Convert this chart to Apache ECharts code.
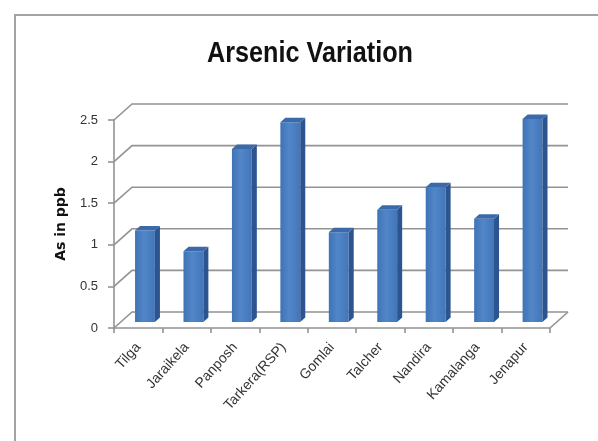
<!DOCTYPE html>
<html>
<head>
<meta charset="utf-8">
<script src="https://cdn.jsdelivr.net/npm/echarts@6/dist/echarts.min.js"></script>
<style>
  html, body { margin: 0; padding: 0; background: #fff; }
  #chart { width: 598px; height: 441px; }
</style>
</head>
<body>
<div id="chart"></div>
<script>
// Arsenic concentration per sampling site (ppb)
const categories = ['Tilga', 'Jaraikela', 'Panposh', 'Tarkera(RSP)', 'Gomlai', 'Talcher', 'Nandira', 'Kamalanga', 'Jenapur'];
const arsenic = [1.1, 0.85, 2.08, 2.40, 1.08, 1.35, 1.62, 1.24, 2.44];
const yTicks = [0, 0.5, 1, 1.5, 2, 2.5];

// Oblique offset of the back wall relative to the front plane (pseudo-3D)
const DX = 18, DY = -16;
const LINE = '#939393';

const chart = echarts.init(document.getElementById('chart'), null, { renderer: 'canvas' });

// Back wall / side wall gridlines and the floor outline
function renderWalls(params, api) {
  const v = api.value(1);
  const y = api.coord([0, v])[1];
  const cs = params.coordSys;
  const x0 = cs.x, x1 = cs.x + cs.width;
  const children = [{
    type: 'polyline',
    shape: { points: [[x0, y], [x0 + DX, y + DY], [x1 + DX, y + DY]] },
    style: { stroke: LINE, lineWidth: 1.6, fill: null }
  }];
  if (v === 0) {
    children.push({
      type: 'line',
      shape: { x1: x1 + DX, y1: y + DY, x2: x1, y2: y },
      style: { stroke: LINE, lineWidth: 1.6 }
    });
  }
  return { type: 'group', children };
}

// Column drawn as front face, side face and top face
function renderColumn(params, api) {
  const i = api.value(0), v = api.value(1);
  const top = api.coord([i, v]);
  const base = api.coord([i, 0]);
  const band = api.size([1, 0])[0];
  const w = band * 0.41;
  const f0 = 0.375, d = 0.28;
  const ox = f0 * DX, oy = f0 * DY;
  const xl = top[0] - w / 2 + ox, xr = xl + w;
  const yt = top[1] + oy, yb = base[1] + oy;
  const sx = d * DX, sy = d * DY;
  return {
    type: 'group',
    children: [
      {
        type: 'rect',
        shape: { x: xl, y: yt, width: w, height: yb - yt },
        style: {
          fill: new echarts.graphic.LinearGradient(0, 0, 1, 0, [
            { offset: 0, color: '#3f73b7' },
            { offset: 0.45, color: '#5186c8' },
            { offset: 1, color: '#4276b9' }
          ])
        }
      },
      {
        type: 'polygon',
        shape: { points: [[xr, yt], [xr + sx, yt + sy], [xr + sx, yb + sy], [xr, yb]] },
        style: { fill: '#2c5590' }
      },
      {
        type: 'polygon',
        shape: { points: [[xl, yt], [xl + sx, yt + sy], [xr + sx, yt + sy], [xr, yt]] },
        style: { fill: '#3a6aaa' }
      }
    ]
  };
}

chart.setOption({
  animation: false,
  backgroundColor: '#ffffff',
  graphic: [
    {
      // chart title, horizontally condensed bold sans
      type: 'text',
      x: 310,
      y: 54,
      scaleX: 0.84,
      style: {
        text: 'Arsenic Variation',
        fontFamily: 'Liberation Sans',
        fontWeight: 'bold',
        fontSize: 30,
        fill: '#111111',
        align: 'center',
        verticalAlign: 'middle'
      },
      z: 100
    },
    {
      type: 'rect',
      shape: { x: 15, y: 15, width: 640, height: 480 },
      style: { fill: null, stroke: '#a3a3a3', lineWidth: 2 },
      silent: true,
      z: 100
    }
  ],
  grid: { left: 114, right: 48, top: 120, bottom: 113 },
  xAxis: {
    type: 'category',
    data: categories,
    boundaryGap: true,
    axisLine: { show: true, lineStyle: { color: LINE, width: 1.6 } },
    axisTick: { show: true, length: 5, inside: false, lineStyle: { color: LINE, width: 1.6 } },
    axisLabel: {
      interval: 0,
      rotate: 48,
      margin: 17,
      fontFamily: 'Liberation Sans',
      fontSize: 14,
      color: '#333333'
    },
    splitLine: { show: false }
  },
  yAxis: {
    type: 'value',
    min: 0,
    max: 2.5,
    interval: 0.5,
    name: 'As in ppb',
    nameLocation: 'middle',
    nameGap: 46,
    nameTextStyle: {
      fontFamily: 'DejaVu Sans',
      fontWeight: 'bold',
      fontSize: 14,
      color: '#111111'
    },
    axisLine: { show: true, lineStyle: { color: LINE, width: 1.6 } },
    axisTick: { show: true, length: 6, lineStyle: { color: LINE, width: 1.6 } },
    axisLabel: {
      margin: 16,
      fontFamily: 'Liberation Sans',
      fontSize: 13,
      color: '#333333'
    },
    splitLine: { show: false }
  },
  series: [
    {
      type: 'custom',
      name: 'walls',
      silent: true,
      z: 1,
      renderItem: renderWalls,
      encode: { x: 0, y: 1 },
      data: yTicks.map(v => [0, v])
    },
    {
      type: 'custom',
      name: 'As in ppb',
      z: 3,
      renderItem: renderColumn,
      encode: { x: 0, y: 1 },
      data: arsenic.map((v, i) => [i, v])
    }
  ]
});
</script>
</body>
</html>
